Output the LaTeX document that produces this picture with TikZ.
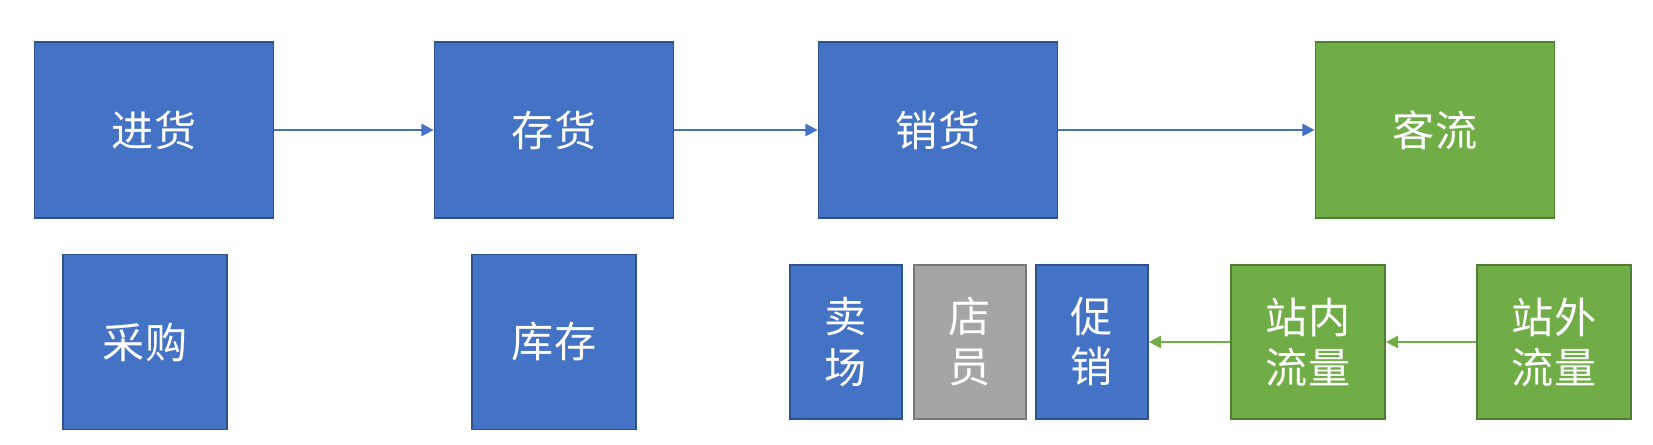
\documentclass[tikz,border=0pt]{standalone}
\usepackage{fontspec}
\newfontfamily\cjk{Noto Sans CJK SC}
\usetikzlibrary{arrows.meta}
\definecolor{myblue}{RGB}{68, 114, 196}
\definecolor{mybluedark}{RGB}{47, 82, 143}
\definecolor{mygreen}{RGB}{112, 173, 71}
\definecolor{mygreendark}{RGB}{80, 126, 50}
\definecolor{mygray}{RGB}{165, 165, 165}
\definecolor{mygraydark}{RGB}{120, 120, 120}
\tikzset{
  stagebox/.style={
    draw=mybluedark, fill=myblue, rectangle,
    line width=1pt, inner sep=0pt, align=center,
    text=white, font=\cjk\fontsize{24}{28.5}\selectfont
  },
  bigbox/.style={
    stagebox, minimum width=4.78cm, minimum height=3.52cm
  },
  midbox/.style={
    stagebox, minimum width=3.28cm, minimum height=3.5cm
  },
  narrowbox/.style={
    stagebox, minimum width=2.24cm, minimum height=3.08cm
  },
  flowbox/.style={
    stagebox, draw=mygreendark, fill=mygreen,
    minimum width=3.08cm, minimum height=3.08cm
  },
  arrow/.style={
    -{Triangle[length=7pt, width=7pt]}, line width=1.1pt, draw=myblue
  },
  greenarrow/.style={
    arrow, draw=mygreen
  }
}
\begin{document}
\begin{tikzpicture}[x=0.02cm, y=-0.02cm]
  \useasboundingbox (0,0) rectangle (1653,445);
  % top row
  \node[bigbox] (jinhuo) at (154,130) {进货};
  \node[bigbox] (cunhuo) at (554,130) {存货};
  \node[bigbox] (xiaohuo) at (938,130) {销货};
  \node[bigbox, draw=mygreendark, fill=mygreen] (keliu) at (1435,130) {客流};

  % bottom row
  \node[midbox] (caigou) at (145,342) {采购};
  \node[midbox] (kucun) at (554,342) {库存};
  \node[narrowbox] (maichang) at (846,342) {卖\\场};
  \node[narrowbox, draw=mygraydark, fill=mygray] (dianyuan) at (970,342) {店\\员};
  \node[narrowbox] (cuxiao) at (1092,342) {促\\销};
  \node[flowbox] (zhannei) at (1308,342) {站内\\流量};
  \node[flowbox] (zhanwai) at (1554,342) {站外\\流量};

  \draw[arrow] (jinhuo) -- (cunhuo);
  \draw[arrow] (cunhuo) -- (xiaohuo);
  \draw[arrow] (xiaohuo) -- (keliu);
  \draw[greenarrow] (zhanwai) -- (zhannei);
  \draw[greenarrow] (zhannei) -- (cuxiao);
\end{tikzpicture}
\end{document}
